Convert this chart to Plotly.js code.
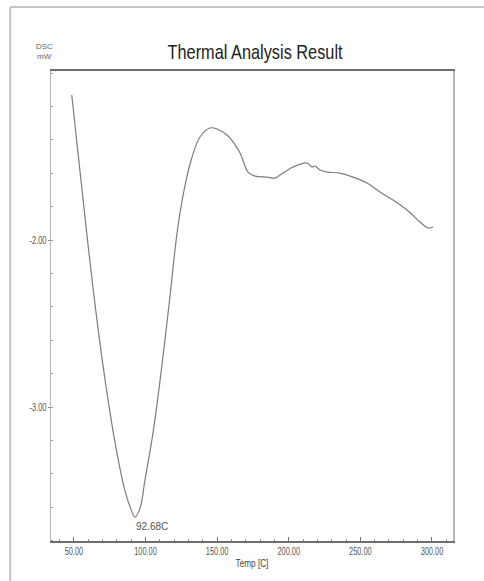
<!DOCTYPE html>
<html>
<head>
<meta charset="utf-8">
<script src="https://cdn.plot.ly/plotly-3.0.1.min.js"></script>
<style>html,body{margin:0;padding:0;background:#fff;}#chart{width:484px;height:581px;}</style>
</head>
<body>
<div id="chart"></div>
<script>
// Temperature [C] and DSC signal [mW]
var temp = [48.5, 52.4, 55.7, 59.5, 63.5, 67.9, 72.8, 78.4, 85.0, 88.8, 92.7, 96.2, 99.6, 105.2, 110.8, 116.8, 122.3, 127.2, 132.5, 138.0, 145.0, 149.9, 156.9, 161.1, 166.0, 171.6, 176.5, 184.8, 190.4, 196.0, 203.0, 212.8, 216.3, 218.4, 221.8, 226.7, 235.8, 242.8, 254.7, 263.7, 272.8, 282.6, 291.7, 297.3, 300.8];
var dsc = [-1.132, -1.443, -1.701, -2.000, -2.299, -2.599, -2.898, -3.198, -3.479, -3.587, -3.659, -3.605, -3.437, -3.156, -2.796, -2.359, -1.940, -1.689, -1.503, -1.383, -1.329, -1.335, -1.371, -1.413, -1.479, -1.593, -1.617, -1.623, -1.629, -1.599, -1.563, -1.539, -1.563, -1.557, -1.581, -1.593, -1.599, -1.617, -1.659, -1.713, -1.760, -1.820, -1.892, -1.928, -1.922];
var xTickVals = [50, 100, 150, 200, 250, 300];
var xTickText = ["50.00", "100.00", "150.00", "200.00", "250.00", "300.00"];
var yTickVals = [-2, -3];
var yTickText = ["-2.00", "-3.00"];
var peakTemp = 92.68;
var peakDsc = -3.659;
var peakLabel = "92.68C";

var fnt = "'Liberation Sans', Arial, sans-serif";

var trace = {
  x: temp, y: dsc, type: 'scatter', mode: 'lines',
  line: {color: '#7c7c7c', width: 1.2, shape: 'spline', smoothing: 1},
  hoverinfo: 'skip'
};

var layout = {
  width: 484, height: 581,
  margin: {l: 51, r: 31, t: 71, b: 40},
  paper_bgcolor: '#fff', plot_bgcolor: '#fff',
  showlegend: false,
  title: {text: 'Thermal Analysis Result', x: 0.527, xanchor: 'center', y: 0.911, yanchor: 'middle',
          font: {family: fnt, size: 21, color: '#222'}},
  xaxis: {
    range: [34, 314.7], tickvals: xTickVals, ticktext: xTickText,
    showgrid: false, zeroline: false, showline: true, mirror: true,
    linecolor: '#6e6e6e', linewidth: 2,
    ticks: 'inside', ticklen: 4, tickcolor: '#777', tickwidth: 1,
    minor: {dtick: 10, tick0: 0, ticks: 'inside', ticklen: 2, tickcolor: '#999', showgrid: false},
    tickfont: {family: fnt, size: 10, color: '#555'},
    title: {text: 'Temp [C]', font: {family: fnt, size: 10, color: '#444'}, standoff: 4}
  },
  yaxis: {
    range: [-3.802, -0.988], tickvals: yTickVals, ticktext: yTickText,
    showgrid: false, zeroline: false, showline: true, mirror: true,
    linecolor: '#b5b5b5', linewidth: 1.5,
    ticks: 'outside', ticklen: 2, tickcolor: '#888', tickwidth: 1,
    ticklabelstandoff: -1,
    minor: {dtick: 0.2, tick0: 0, ticks: 'inside', ticklen: 2, tickcolor: '#999', showgrid: false},
    tickfont: {family: fnt, size: 10, color: '#555'}
  },
  annotations: [
    {xref: 'paper', yref: 'paper', x: -0.015, y: 1.053, xanchor: 'center', yanchor: 'middle',
     text: 'DSC', showarrow: false, font: {family: fnt, size: 8, color: '#666'}},
    {xref: 'paper', yref: 'paper', x: -0.015, y: 1.03, xanchor: 'center', yanchor: 'middle',
     text: 'mW', showarrow: false, font: {family: fnt, size: 8, color: '#666'}},
    {x: peakTemp, y: peakDsc, xref: 'x', yref: 'y', xanchor: 'left', yanchor: 'top', xshift: -1, yshift: -2,
     text: peakLabel, showarrow: false, font: {family: fnt, size: 10, color: '#555'}}
  ],
  shapes: [
    {type: 'line', xref: 'paper', yref: 'paper', x0: -0.1014, x1: 1.08, y0: 1.136, y1: 1.136,
     line: {color: '#c4c4c4', width: 2}},
    {type: 'line', xref: 'paper', yref: 'paper', x0: -0.1014, x1: -0.1014, y0: 1.136, y1: -0.1,
     line: {color: '#c4c4c4', width: 2}}
  ]
};

function condense(sel, factor, fixed) {
  document.querySelectorAll(sel).forEach(function (el) {
    try {
      var len = el.getComputedTextLength();
      if (len > 0) {
        el.setAttribute('textLength', (fixed ? fixed : len * factor).toFixed(1));
        el.setAttribute('lengthAdjust', 'spacingAndGlyphs');
      }
    } catch (e) {}
  });
}

Plotly.newPlot('chart', [trace], layout, {displayModeBar: false, staticPlot: true}).then(function () {
  condense('text.gtitle', 1, 175);
  condense('.xtick text, .ytick text', 0.74);
  condense('text.xtitle', 0.82);
});
</script>
</body>
</html>
